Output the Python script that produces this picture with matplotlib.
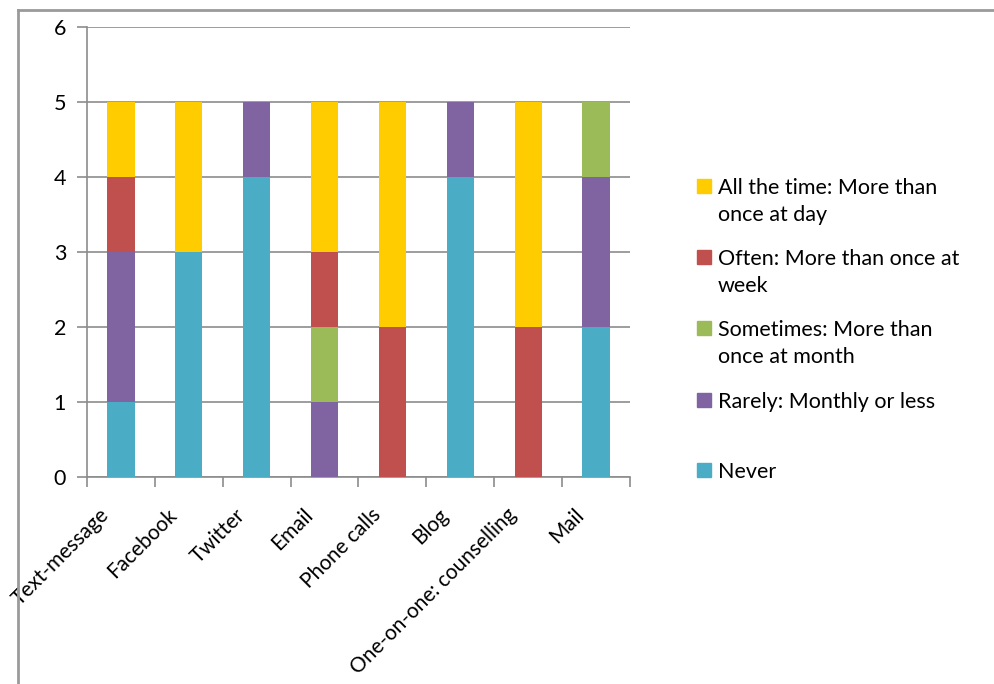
import matplotlib
matplotlib.use("Agg")
import matplotlib.pyplot as plt
from matplotlib.patches import Rectangle
from matplotlib.lines import Line2D
from matplotlib.transforms import ScaledTranslation
import numpy as np

plt.rcParams['font.family'] = ['Lato', 'DejaVu Sans']

categories = ["Text-message", "Facebook", "Twitter", "Email", "Phone calls",
              "Blog", "One-on-one: counselling", "Mail"]
never = [1, 3, 4, 0, 0, 4, 0, 2]
rarely = [2, 0, 1, 1, 0, 1, 0, 2]
sometimes = [0, 0, 0, 1, 0, 0, 0, 1]
often = [1, 0, 0, 1, 2, 0, 2, 0]
all_time = [1, 2, 0, 2, 3, 0, 3, 0]

series = [
    ("Never", never, "#4BACC6"),
    ("Rarely: Monthly or less", rarely, "#8064A2"),
    ("Sometimes: More than\nonce at month", sometimes, "#9BBB59"),
    ("Often: More than once at\nweek", often, "#C0504D"),
    ("All the time: More than\nonce at day", all_time, "#FFCC00"),
]

W, H = 995, 684
fig = plt.figure(figsize=(W / 100, H / 100), dpi=100)
ax = fig.add_axes([87 / W, 1 - 477 / H, (630 - 87) / W, (477 - 27) / H])

x = np.arange(len(categories))
bottom = np.zeros(len(categories))
for name, vals, col in series:
    ax.bar(x, vals, width=0.4, bottom=bottom, color=col, zorder=3)
    bottom += np.array(vals)

ax.set_xlim(-0.5, len(categories) - 0.5)
ax.set_ylim(0, 6)
ax.set_yticks(range(0, 7))
ax.yaxis.grid(True, color="#8c8c8c", linewidth=1.2, zorder=0)
ax.set_axisbelow(True)

ax.set_xticks(np.arange(-0.5, len(categories)))
ax.set_xticklabels([])
ax.tick_params(axis="x", length=7, color="#8c8c8c", width=1.2)
ax.tick_params(axis="y", length=7, color="#8c8c8c", width=1.2, labelsize=15.5, pad=8)

# category labels, rotated 45 degrees
off = ScaledTranslation(-15 / 100, -35 / 100, fig.dpi_scale_trans)
tr = ax.get_xaxis_transform() + off
for xi, cat in zip(x, categories):
    ax.text(xi, 0, cat, transform=tr, rotation=45, ha="right", va="center",
            rotation_mode="anchor", fontsize=15, clip_on=False)

for s in ["top", "right"]:
    ax.spines[s].set_visible(False)
for s in ["left", "bottom"]:
    ax.spines[s].set_color("#8c8c8c")
    ax.spines[s].set_linewidth(1.2)

# outer chart frame (left and top visible)
fig.add_artist(Line2D([18 / W, 18 / W], [0, 1 - 10 / H], color="#9a9a9a", lw=2,
                      transform=fig.transFigure))
fig.add_artist(Line2D([18 / W, 1], [1 - 10 / H, 1 - 10 / H], color="#9a9a9a", lw=2,
                      transform=fig.transFigure))

# legend (drawn manually to match layout)
leg_y = [186, 257, 328, 400, 470]
for (name, vals, col), yy in zip(reversed(series), leg_y):
    fig.add_artist(Rectangle((697 / W, 1 - (yy + 7) / H), 14 / W, 14 / H,
                             color=col, transform=fig.transFigure))
    fig.text(718 / W, 1 - (yy - 8) / H, name, fontsize=15.5, va="top", ha="left",
             linespacing=1.42)

fig.savefig("out.png", dpi=100)
